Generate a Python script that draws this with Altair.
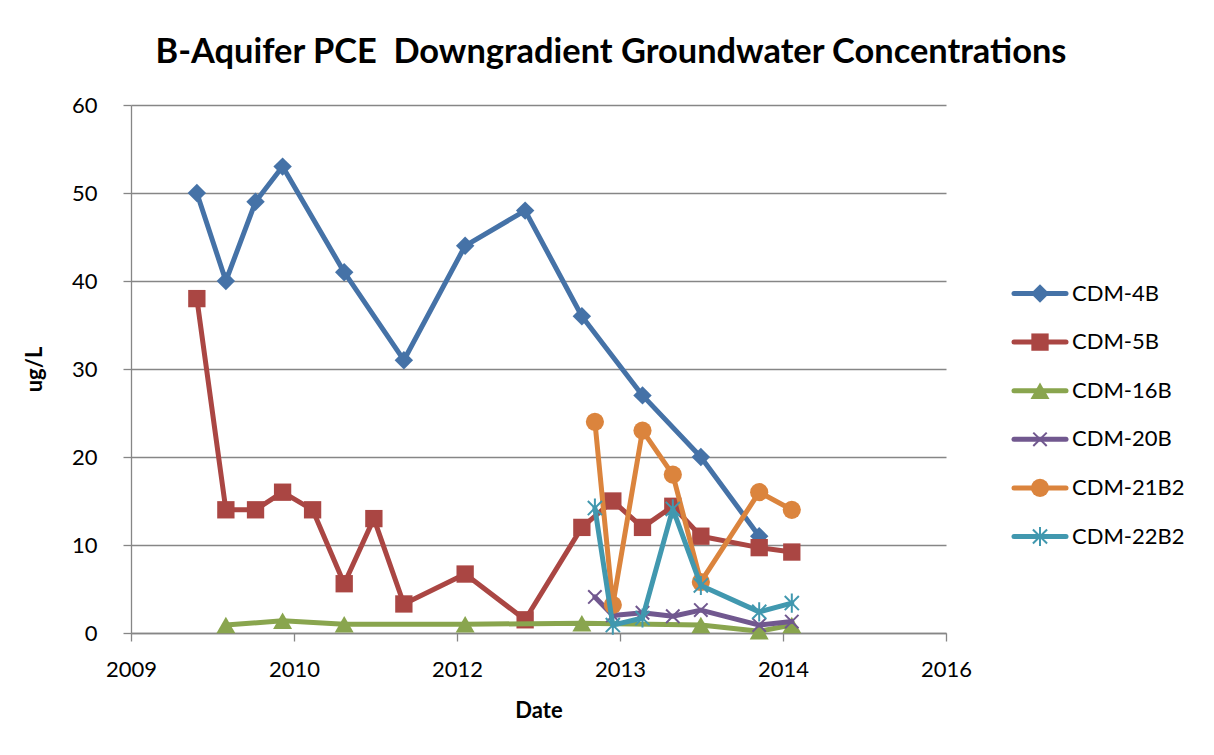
import altair as alt
import pandas as pd

# ---------------- data ----------------
series_names = ["CDM-4B", "CDM-5B", "CDM-16B", "CDM-20B", "CDM-21B2", "CDM-22B2"]
series_colors = ["#4572A7", "#AA4643", "#89A54E", "#71588F", "#DB843D", "#4198AF"]

cdm4b_dates = ["2010-01-24", "2010-04-23", "2010-07-23", "2010-10-14", "2011-04-21", "2011-10-21",
               "2012-04-26", "2012-10-27", "2013-04-19", "2013-10-22", "2014-04-19", "2014-10-15"]
cdm4b_values = [50, 40, 49, 53, 41, 31, 44, 48, 36, 27, 20, 11]

cdm5b_dates = ["2010-01-24", "2010-04-23", "2010-07-23", "2010-10-14", "2011-01-14", "2011-04-21",
               "2011-07-21", "2011-10-21", "2012-04-26", "2012-10-27", "2013-04-19", "2013-07-23",
               "2013-10-22", "2014-01-23", "2014-04-19", "2014-10-15", "2015-01-23"]
cdm5b_values = [38, 14, 14, 16, 14, 5.6, 13, 3.3, 6.7, 1.5, 12, 15, 12, 14.4, 11, 9.7, 9.2]

cdm16b_dates = ["2010-04-23", "2010-10-14", "2011-04-21", "2012-04-26", "2013-04-19",
                "2014-04-19", "2014-10-15", "2015-01-23"]
cdm16b_values = [0.9, 1.4, 1.0, 1.0, 1.1, 0.9, 0.2, 0.9]

cdm20b_dates = ["2013-05-29", "2013-07-23", "2013-10-22", "2014-01-23", "2014-04-19",
                "2014-10-15", "2015-01-23"]
cdm20b_values = [4.1, 2.0, 2.3, 1.9, 2.6, 0.9, 1.3]

cdm21b2_dates = ["2013-05-29", "2013-07-23", "2013-10-22", "2014-01-23", "2014-04-19",
                 "2014-10-15", "2015-01-23"]
cdm21b2_values = [24, 3.2, 23, 18, 5.8, 16, 14]

cdm22b2_dates = ["2013-05-29", "2013-07-23", "2013-10-22", "2014-01-23", "2014-04-19",
                 "2014-10-15", "2015-01-23"]
cdm22b2_values = [14.2, 0.9, 1.7, 14.1, 5.4, 2.4, 3.4]

# x axis: Excel serial 40000..42500 step 500 (labels 2009 2010 2012 2013 2014 2016)
x_tick_dates = [(2009, 7, 6), (2010, 11, 18), (2012, 4, 1), (2013, 8, 14), (2014, 12, 27), (2016, 5, 10)]
y_ticks = [0, 10, 20, 30, 40, 50, 60]

all_dates = [cdm4b_dates, cdm5b_dates, cdm16b_dates, cdm20b_dates, cdm21b2_dates, cdm22b2_dates]
all_values = [cdm4b_values, cdm5b_values, cdm16b_values, cdm20b_values, cdm21b2_values, cdm22b2_values]

rows = []
for name, ds, vs in zip(series_names, all_dates, all_values):
    for d, v in zip(ds, vs):
        rows.append({"series": name, "date": d, "value": v})
df = pd.DataFrame(rows)

# ---------------- styling ----------------
FONT = "Lato"
GRID = "#868686"
X_PATH = "M-1,-1L1,1M-1,1L1,-1"
STAR_PATH = "M-1,-1L1,1M-1,1L1,-1M0,-1.35L0,1.35"
marker_specs = {
    "CDM-4B": dict(shape="diamond", filled=True, size=340),
    "CDM-5B": dict(shape="square", filled=True, size=300),
    "CDM-16B": dict(shape="triangle-up", filled=True, size=360),
    "CDM-20B": dict(shape=X_PATH, filled=False, size=180, strokeWidth=2),
    "CDM-21B2": dict(shape="circle", filled=True, size=330),
    "CDM-22B2": dict(shape=STAR_PATH, filled=False, size=200, strokeWidth=2),
}

dt = lambda t: alt.DateTime(year=t[0], month=t[1], date=t[2], utc=True)

x_enc = alt.X(
    "date:T",
    scale=alt.Scale(type="utc", domain=[dt(x_tick_dates[0]), dt(x_tick_dates[-1])], nice=False),
    axis=alt.Axis(values=[dt(t) for t in x_tick_dates], format="%Y", title="Date", grid=False,
                  labelFont=FONT, labelFontSize=22, labelColor="black", labelPadding=18,
                  labelFlush=False, labelOverlap=False,
                  titleFont=FONT, titleFontSize=22, titleFontWeight="bold", titleColor="black",
                  titlePadding=20, domainColor=GRID, domainWidth=1.3, tickColor=GRID,
                  tickWidth=1.3, tickSize=8),
)
y_enc = alt.Y(
    "value:Q",
    scale=alt.Scale(domain=[0, 60], nice=False),
    axis=alt.Axis(values=y_ticks, title="ug/L", grid=True, gridColor=GRID, gridWidth=1.3,
                  labelFont=FONT, labelFontSize=22, labelColor="black", labelPadding=26,
                  titleFont=FONT, titleFontSize=22, titleFontWeight="bold", titleColor="black",
                  titlePadding=25, domainColor=GRID, domainWidth=1.3, tickColor=GRID,
                  tickWidth=1.3, tickSize=8),
)

layers = []
for name, color in zip(series_names, series_colors):
    base = alt.Chart(df).transform_filter(alt.datum.series == name)
    layers.append(base.mark_line(color=color, strokeWidth=5, strokeJoin="round", strokeCap="round")
                  .encode(x=x_enc, y=y_enc))
    spec = dict(marker_specs[name])
    layers.append(base.mark_point(color=color, opacity=1, **spec).encode(x=x_enc, y=y_enc))

main = alt.layer(*layers).properties(width=815, height=528)

# ---------------- legend panel ----------------
leg_df = pd.DataFrame({"series": series_names})
leg_y = alt.Y("series:N", sort=series_names,
              scale=alt.Scale(type="point", domain=series_names, range=[188.5, 431.5],
                              padding=0),
              axis=None)
leg_color = alt.Color("series:N", scale=alt.Scale(domain=series_names, range=series_colors), legend=None)

leg_layers = [
    alt.Chart(leg_df).mark_rule(strokeWidth=5, strokeCap="round").encode(
        x=alt.value(2), x2=alt.value(54), y=leg_y, color=leg_color)
]
for name, color in zip(series_names, series_colors):
    spec = dict(marker_specs[name])
    leg_layers.append(
        alt.Chart(leg_df).transform_filter(alt.datum.series == name)
        .mark_point(color=color, opacity=1, **spec)
        .encode(x=alt.value(28), y=leg_y)
    )
leg_layers.append(
    alt.Chart(leg_df).mark_text(align="left", baseline="middle", font=FONT, fontSize=22, color="black")
    .encode(x=alt.value(60), y=leg_y, text="series:N")
)
legend = alt.layer(*leg_layers).properties(width=165, height=528)

chart = (
    alt.hconcat(main, legend, spacing=39)
    .properties(
        title=alt.TitleParams("B-Aquifer PCE\u00a0 Downgradient Groundwater Concentrations", dx=7),
        padding={"left": 15, "top": 26, "right": 5, "bottom": 5},
    )
    .configure_view(strokeWidth=0)
    .configure_title(font=FONT, fontSize=34.4, fontWeight="bold", color="black", anchor="middle", offset=24)
)

chart.save("out.html", embed_options={"renderer": "svg", "actions": False})
